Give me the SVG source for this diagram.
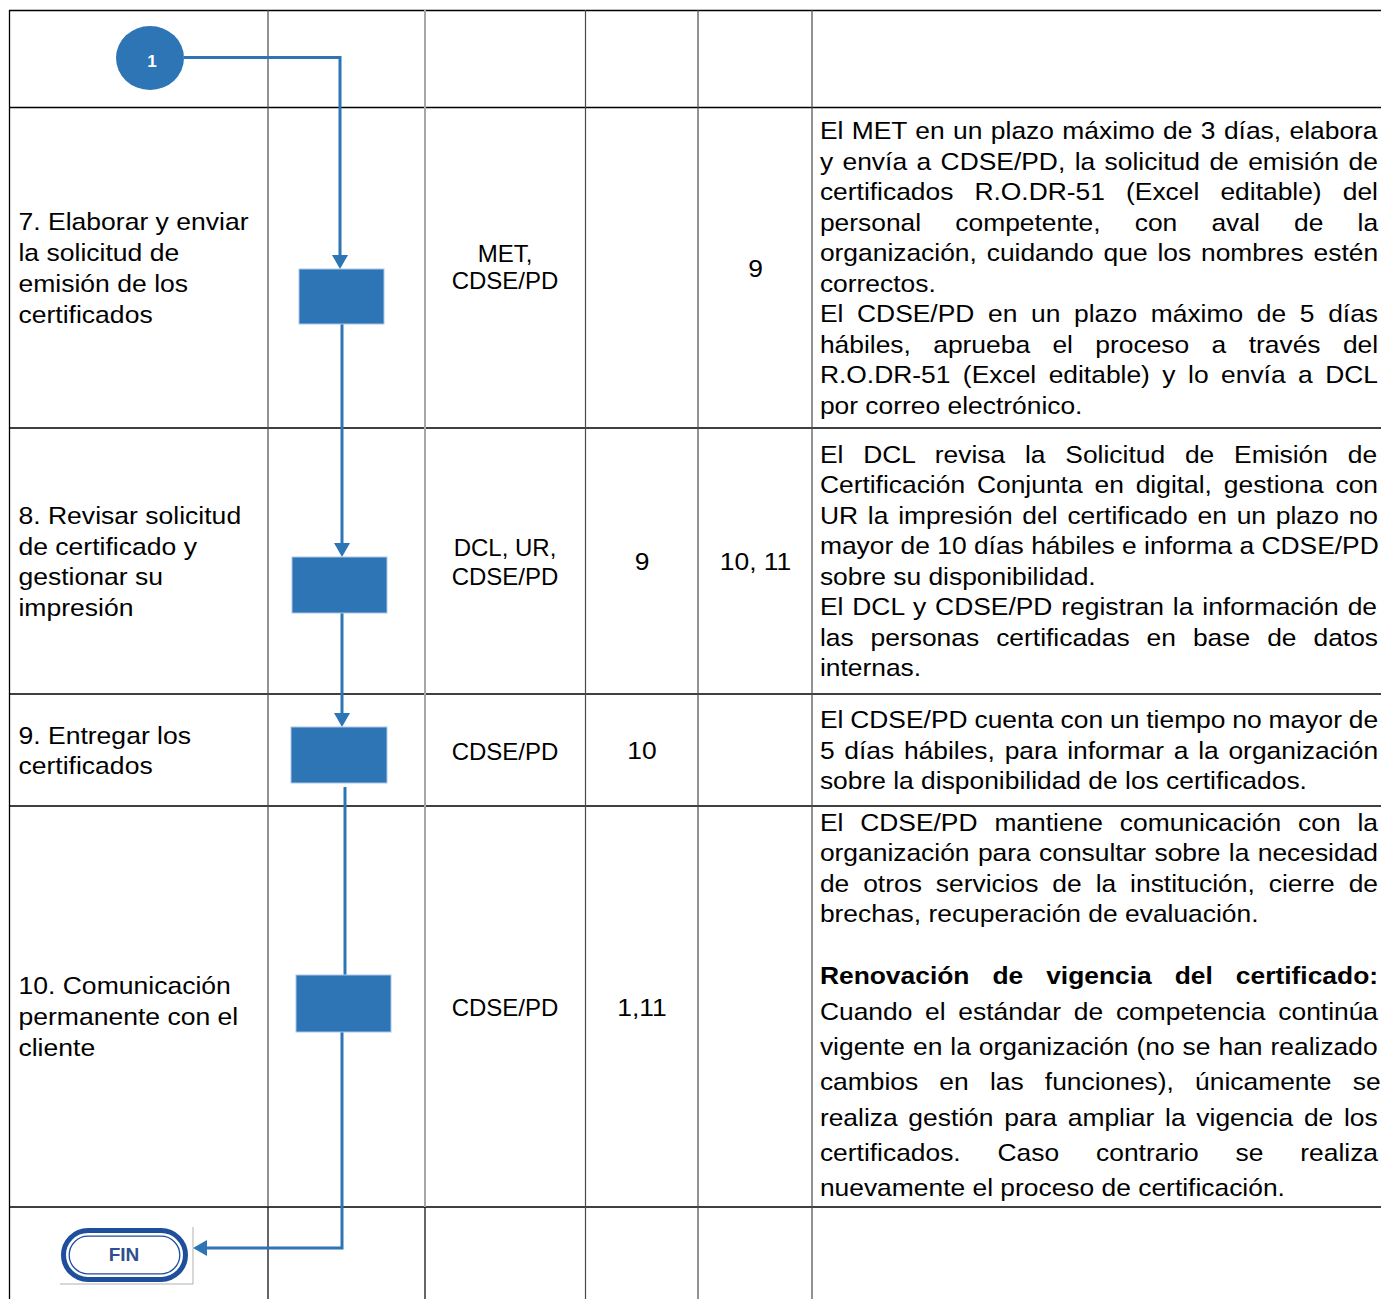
<svg xmlns="http://www.w3.org/2000/svg" width="1381" height="1299" viewBox="0 0 1381 1299">
<defs>
<style>
.t{font-family:"Liberation Sans",Arial,sans-serif;font-size:24px;fill:#000}
.c{text-anchor:middle}
.b{font-weight:bold}
.h{stroke:#000;stroke-width:1.3}
.v{stroke:#4a4a4a;stroke-width:1.2}
.box{fill:#2E75B6;stroke:#a9c8e8;stroke-width:1}
</style>
<marker id="ah" viewBox="0 0 14 16" refX="3" refY="8" markerWidth="14" markerHeight="16" markerUnits="userSpaceOnUse" orient="auto">
<path d="M0,0 L14,8 L0,16 z" fill="#2E75B6"/>
</marker>
</defs>
<rect width="1381" height="1299" fill="#fff"/>
<g id="grid">
<line class="h" x1="9" y1="10.5" x2="1381" y2="10.5"/>
<line class="h" x1="9" y1="107.5" x2="1381" y2="107.5"/>
<line class="h" x1="9" y1="428" x2="1381" y2="428"/>
<line class="h" x1="9" y1="694" x2="1381" y2="694"/>
<line class="h" x1="9" y1="806" x2="1381" y2="806"/>
<line class="h" x1="9" y1="1207" x2="1381" y2="1207"/>
<line x1="9.5" y1="10" x2="9.5" y2="1299" stroke="#000" stroke-width="1.3"/>
<line class="v" x1="268" y1="10" x2="268" y2="1207"/>
<line x1="425" y1="10" x2="425" y2="1207" stroke="#a6a6a6" stroke-width="2"/>
<line x1="268" y1="1207" x2="268" y2="1299" stroke="#000" stroke-width="1.2"/>
<line x1="425" y1="1207" x2="425" y2="1299" stroke="#000" stroke-width="1.2"/>
<line class="v" x1="585.5" y1="10" x2="585.5" y2="1299"/>
<line class="v" x1="698" y1="10" x2="698" y2="1299"/>
<line class="v" x1="812" y1="10" x2="812" y2="1299"/>
</g>
<g id="connectors" fill="none" stroke="#2E75B6" stroke-width="3">
<path d="M184,57.5 H340 V258" marker-end="url(#ah)"/>
<path d="M342,324 V546" marker-end="url(#ah)"/>
<path d="M342,613 V716" marker-end="url(#ah)"/>
<path d="M345,787 V975"/>
<path d="M342,1032 V1248 H204" marker-end="url(#ah)"/>
</g>
<g id="start">
<ellipse cx="150" cy="58" rx="34" ry="32" fill="#2E75B6"/>
<text x="152" y="67" class="t c b" style="font-size:17px;fill:#fff">1</text>
</g>
<g id="step7"><rect class="box" x="299" y="269" width="85" height="55"/></g>
<g id="step8"><rect class="box" x="292" y="557" width="95" height="56"/></g>
<g id="step9"><rect class="box" x="291" y="727" width="96" height="56"/></g>
<g id="step10"><rect class="box" x="296" y="975" width="95" height="57"/></g>
<g id="fin">
<rect x="60" y="1227" width="133" height="57" fill="#fff"/>
<path d="M60,1284 H193 V1227" fill="none" stroke="#b0b0b0" stroke-width="1"/>
<rect x="63.5" y="1230.5" width="122" height="49" rx="24.5" fill="#fff" stroke="#1f4e9c" stroke-width="5"/>
<rect x="69.2" y="1236.2" width="110.6" height="37.6" rx="18.8" fill="none" stroke="#1f4e9c" stroke-width="1.3"/>
<text x="124" y="1261" class="t c b" style="font-size:19px;fill:#2f4f8f">FIN</text>
</g>
<g id="col-activity" transform="matrix(1.106 0 0 1 -2.014 0)">
<text class="t" x="18.5" y="230">7. Elaborar y enviar</text>
<text class="t" x="18.5" y="261">la solicitud de</text>
<text class="t" x="18.5" y="292">emisión de los</text>
<text class="t" x="18.5" y="323">certificados</text>
<text class="t" x="18.5" y="524">8. Revisar solicitud</text>
<text class="t" x="18.5" y="555">de certificado y</text>
<text class="t" x="18.5" y="585.5">gestionar su</text>
<text class="t" x="18.5" y="616">impresión</text>
<text class="t" x="18.5" y="744">9. Entregar los</text>
<text class="t" x="18.5" y="774.5">certificados</text>
<text class="t" x="18.5" y="994">10. Comunicación</text>
<text class="t" x="18.5" y="1025">permanente con el</text>
<text class="t" x="18.5" y="1056">cliente</text>
</g>
<g id="col-resp">
<text class="t c" x="505" y="262">MET,</text>
<text class="t c" x="505" y="289">CDSE/PD</text>
<text class="t c" x="505" y="556">DCL, UR,</text>
<text class="t c" x="505" y="584.5">CDSE/PD</text>
<text class="t c" x="505" y="759.5">CDSE/PD</text>
<text class="t c" x="505" y="1015.5">CDSE/PD</text>
</g>
<g id="col-refs">
<g transform="matrix(1.1 0 0 1 -64.2 0)">
<text class="t c" x="642" y="570.5">9</text>
<text class="t c" x="642" y="759.5">10</text>
<text class="t c" x="642" y="1016.5">1,11</text>
</g>
<g transform="matrix(1.1 0 0 1 -75.55 0)">
<text class="t c" x="755.5" y="277.5">9</text>
<text class="t c" x="755.5" y="570.5">10, 11</text>
</g>
</g>
<g id="desc" transform="matrix(1.1 0 0 1 -82.1 0)">
<text class="t" x="820" y="139.5" word-spacing="0.96">El MET en un plazo máximo de 3 días, elabora</text>
<text class="t" x="820" y="170" word-spacing="1.9">y envía a CDSE/PD, la solicitud de emisión de</text>
<text class="t" x="820" y="200.5" word-spacing="12.5">certificados R.O.DR-51 (Excel editable) del</text>
<text class="t" x="820" y="231" word-spacing="24.4">personal competente, con aval de la</text>
<text class="t" x="820" y="261.5" word-spacing="2.26">organización, cuidando que los nombres estén</text>
<text class="t" x="820" y="292">correctos.</text>
<text class="t" x="820" y="322.5" word-spacing="5.75">El CDSE/PD en un plazo máximo de 5 días</text>
<text class="t" x="820" y="353" word-spacing="13.67">hábiles, aprueba el proceso a través del</text>
<text class="t" x="820" y="383.5" word-spacing="4.67">R.O.DR-51 (Excel editable) y lo envía a DCL</text>
<text class="t" x="820" y="414">por correo electrónico.</text>
<text class="t" x="820" y="463" word-spacing="11.34">El DCL revisa la Solicitud de Emisión de</text>
<text class="t" x="820" y="493.5" word-spacing="4.12">Certificación Conjunta en digital, gestiona con</text>
<text class="t" x="820" y="524" word-spacing="2.25">UR la impresión del certificado en un plazo no</text>
<text class="t" x="820" y="554.5">mayor de 10 días hábiles e informa a CDSE/PD</text>
<text class="t" x="820" y="585">sobre su disponibilidad.</text>
<text class="t" x="820" y="615.5" word-spacing="1.43">El DCL y CDSE/PD registran la información de</text>
<text class="t" x="820" y="646" word-spacing="8.77">las personas certificadas en base de datos</text>
<text class="t" x="820" y="676.5">internas.</text>
<text class="t" x="820" y="728.5" word-spacing="-0.4">El CDSE/PD cuenta con un tiempo no mayor de</text>
<text class="t" x="820" y="759" word-spacing="2.19">5 días hábiles, para informar a la organización</text>
<text class="t" x="820" y="789.5">sobre la disponibilidad de los certificados.</text>
<text class="t" x="820" y="831" word-spacing="8.66">El CDSE/PD mantiene comunicación con la</text>
<text class="t" x="820" y="861.5" word-spacing="0.92">organización para consultar sobre la necesidad</text>
<text class="t" x="820" y="892" word-spacing="6">de otros servicios de la institución, cierre de</text>
<text class="t" x="820" y="922.5">brechas, recuperación de evaluación.</text>
<text class="t b" x="820" y="984.5" word-spacing="14.2">Renovación de vigencia del certificado:</text>
<text class="t" x="820" y="1020.5" word-spacing="4.92">Cuando el estándar de competencia continúa</text>
<text class="t" x="820" y="1055.5" word-spacing="0.6">vigente en la organización (no se han realizado</text>
<text class="t" x="820" y="1090.5" word-spacing="12.6">cambios en las funciones), únicamente se</text>
<text class="t" x="820" y="1126" word-spacing="3.1">realiza gestión para ampliar la vigencia de los</text>
<text class="t" x="820" y="1161" word-spacing="26.85">certificados. Caso contrario se realiza</text>
<text class="t" x="820" y="1196">nuevamente el proceso de certificación.</text>
</g>
</svg>
